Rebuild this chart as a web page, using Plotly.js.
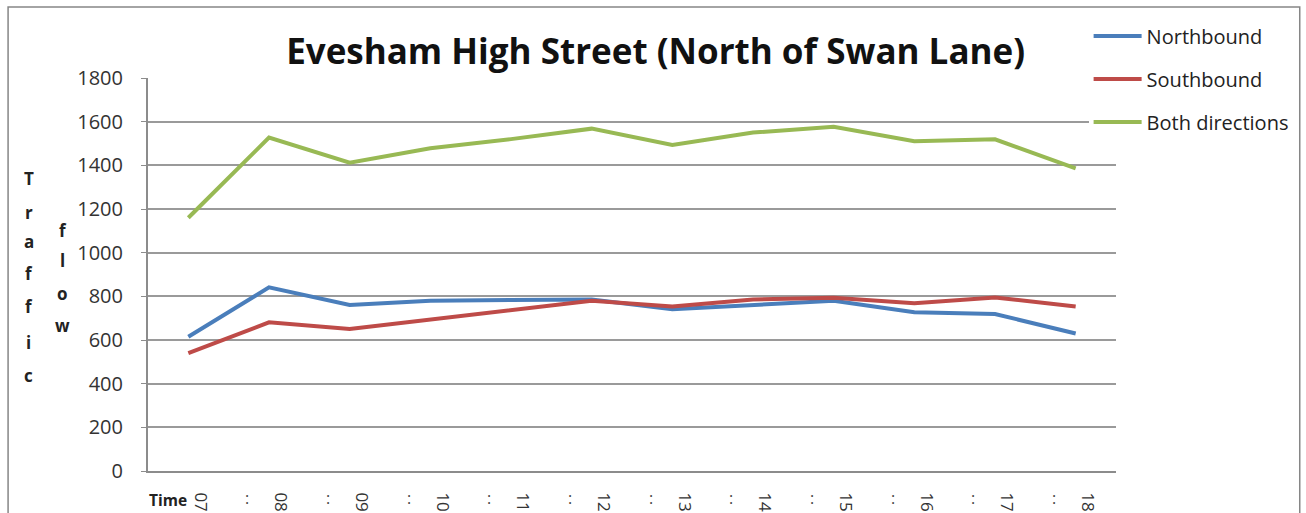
<!DOCTYPE html>
<html>
<head>
<meta charset="utf-8">
<script src="https://cdn.plot.ly/plotly-3.0.1.min.js"></script>
<style>
html,body{margin:0;padding:0;background:#fff;}
#chart{width:1306px;height:513px;}
</style>
</head>
<body>
<div id="chart"></div>
<script>
// ---- data ----
const timeLabels = ["07","08","09","10","11","12","13","14","15","16","17","18"];
const northbound = [615, 841, 760, 780, 783, 786, 741, 762, 780, 727, 719, 630];
const southbound = [540, 681, 650, 692, 737, 780, 753, 786, 794, 768, 795, 753];
const bothDirections = [1160, 1527, 1412, 1478, 1520, 1568, 1493, 1550, 1577, 1510, 1519, 1386];
const seriesNames = ["Northbound", "Southbound", "Both directions"];
const yTitleCol1 = "Traffic";
const yTitleCol2 = "flow";

// ---- layout helpers (pixel geometry) ----
const W = 1306, H = 513;
const L = 147.5, R = 1119.5, T = 78, B = 471;
const pw = R - L, ph = B - T;
const px = x => (x - L) / pw;
const py = y => (B - y) / ph;

const colors = ["#4A7EBB", "#BE4B48", "#98B954"];
const font = "Open Sans, Noto Sans, sans-serif";

const traces = [northbound, southbound, bothDirections].map((ys, i) => ({
  type: "scatter",
  mode: "lines",
  x: timeLabels,
  y: ys,
  name: seriesNames[i],
  legendgroup: "g" + i,
  line: {color: colors[i], width: 4},
  hoverinfo: "x+y+name"
}));

const annotations = [];
// stacked y-axis title letters
const col1Y = [178, 212, 242, 273, 306, 342, 375];
yTitleCol1.split("").forEach((ch, i) => annotations.push({
  xref: "paper", yref: "paper", x: px(28), y: py(col1Y[i]),
  text: "<b>" + ch + "</b>", showarrow: false, xanchor: "center", yanchor: "middle",
  font: {family: font, size: 17, color: "#222"}
}));
const col2Y = [230, 260, 293, 325];
yTitleCol2.split("").forEach((ch, i) => annotations.push({
  xref: "paper", yref: "paper", x: px(62), y: py(col2Y[i]),
  text: "<b>" + ch + "</b>", showarrow: false, xanchor: "center", yanchor: "middle",
  font: {family: font, size: 17, color: "#222"}
}));
// "Time" label
annotations.push({
  xref: "paper", yref: "paper", x: px(146), y: py(500),
  text: "<b>Time</b>", showarrow: false, xanchor: "left", yanchor: "middle",
  font: {family: font, size: 15.5, color: "#222"}
});
// colons between tick labels
for (let i = 0; i < timeLabels.length - 1; i++) {
  annotations.push({
    xref: "x", yref: "paper", x: i + 0.73, y: py(498),
    text: ":", showarrow: false, xanchor: "center", yanchor: "middle",
    font: {family: font, size: 16, color: "#444"}
  });
}

const layout = {
  width: W, height: H,
  margin: {l: L, r: W - R, t: T, b: H - B, pad: 0},
  paper_bgcolor: "#fff", plot_bgcolor: "#fff",
  font: {family: font, color: "#333"},
  title: {
    text: "<b>Evesham High Street (North of Swan Lane)</b>",
    font: {family: font, size: 35, color: "#111"},
    x: 0.502, xref: "container", xanchor: "center",
    y: 1 - 52 / H, yref: "container", yanchor: "middle"
  },
  xaxis: {
    type: "category",
    range: [-0.5, 11.5],
    showgrid: false,
    showline: true, linecolor: "#8c8c8c", linewidth: 2,
    ticks: "", tickangle: 90,
    ticklabelshift: 12, ticklabelstandoff: 16,
    tickfont: {family: font, size: 17, color: "#333"},
    zeroline: false, fixedrange: true
  },
  yaxis: {
    range: [0, 1800],
    tickvals: [0, 200, 400, 600, 800, 1000, 1200, 1400, 1600, 1800],
    showgrid: true, gridcolor: "#9a9a9a", gridwidth: 2,
    showline: true, linecolor: "#8c8c8c", linewidth: 2,
    ticks: "outside", ticklen: 5, tickcolor: "#8c8c8c",
    ticklabelstandoff: 14,
    tickfont: {family: font, size: 20, color: "#333"},
    zeroline: false, fixedrange: true
  },
  showlegend: true,
  legend: {
    x: px(1092), xanchor: "left", y: py(16.5), yanchor: "top",
    bgcolor: "#fff", borderwidth: 0,
    font: {family: font, size: 20, color: "#222"},
    tracegroupgap: 14, itemwidth: 48
  },
  annotations: annotations,
  shapes: [{
    type: "rect", xref: "paper", yref: "paper", layer: "above",
    x0: px(7), x1: px(1304), y0: py(560), y1: py(7),
    line: {color: "#868686", width: 1.5}, fillcolor: "rgba(0,0,0,0)"
  }]
};

Plotly.newPlot("chart", traces, layout, {displayModeBar: false, staticPlot: true});
</script>
</body>
</html>
